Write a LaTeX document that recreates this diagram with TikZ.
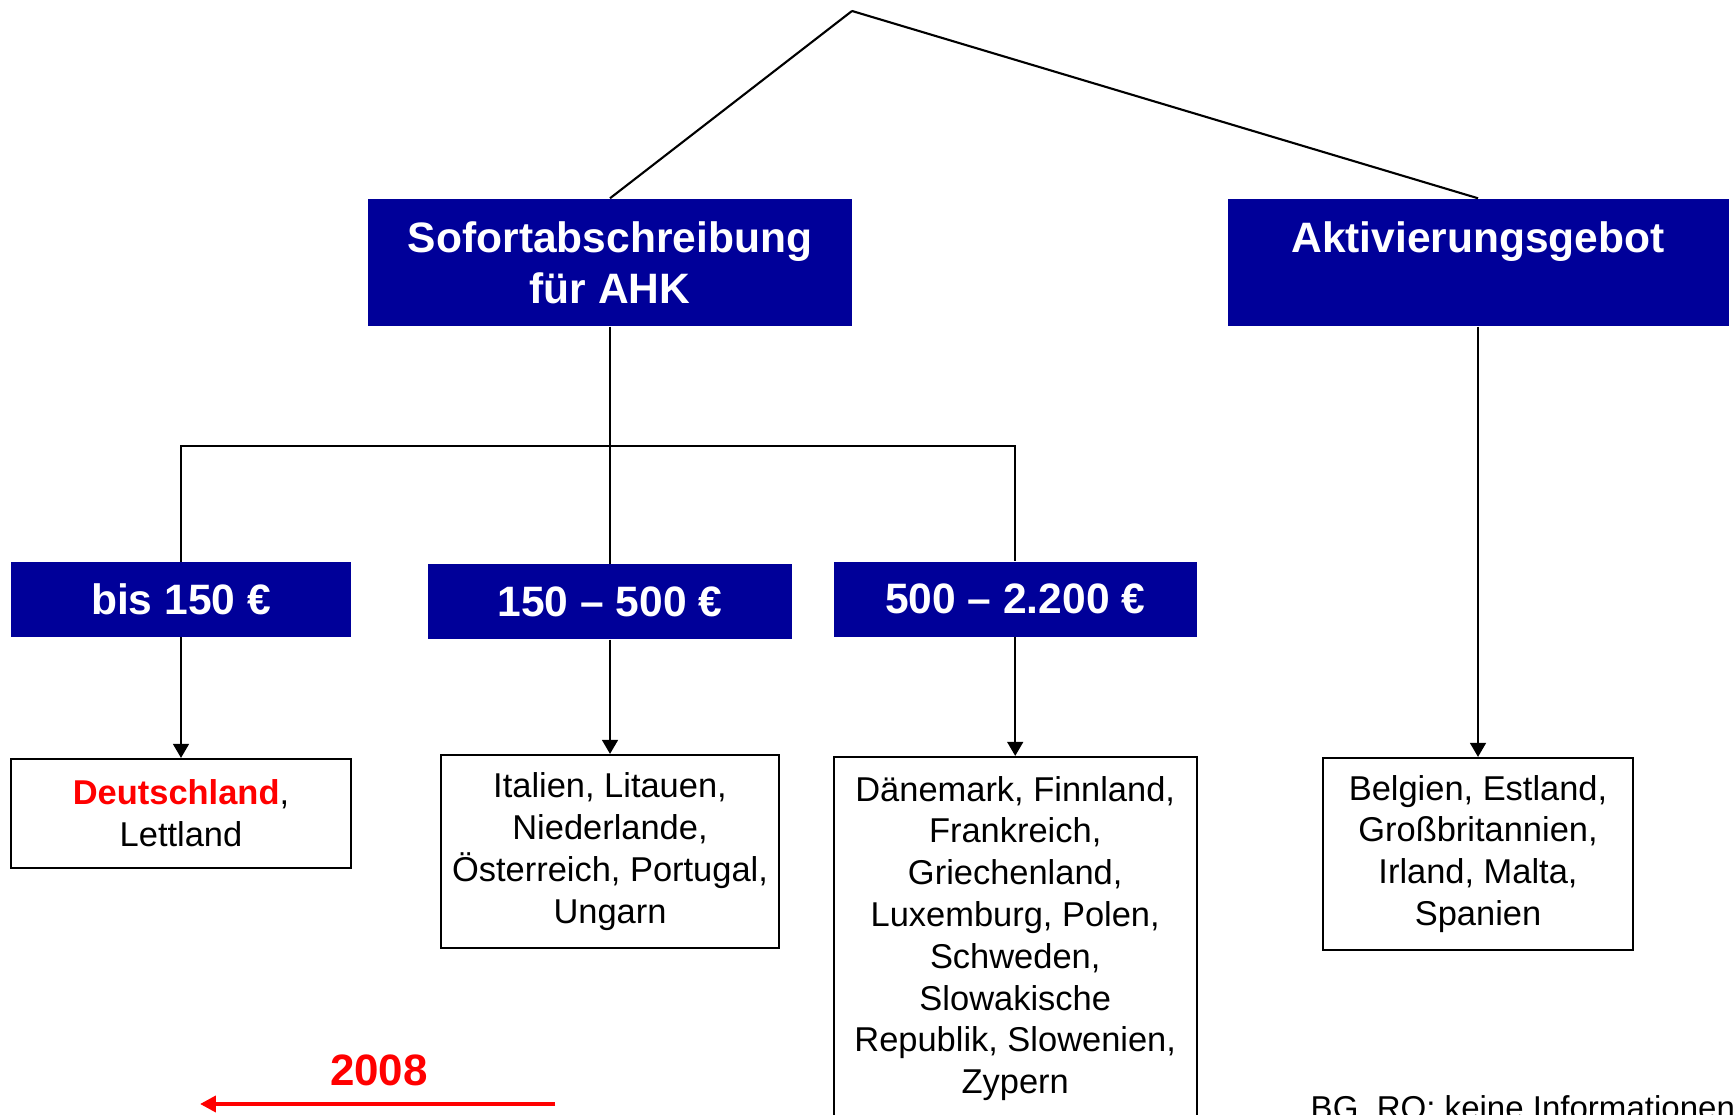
\documentclass[tikz,border=0pt]{standalone}
\usepackage{fontspec}
\setmainfont{Liberation Sans}
\usetikzlibrary{calc,arrows.meta}
\definecolor{ahkblue}{RGB}{0,0,153}
\definecolor{ahkred}{RGB}{255,0,0}

\tikzset{
  headbox/.style={fill=ahkblue, text=white, align=center, inner sep=0pt,
    font=\fontsize{12.1}{14.5}\selectfont\bfseries,
    minimum width=#1, minimum height=1.27cm},
  pricebox/.style={fill=ahkblue, text=white, inner sep=0pt,
    font=\fontsize{12.1}{14}\selectfont\bfseries,
    minimum width=#1, minimum height=0.745cm},
  countrybox/.style n args={2}{draw, line width=0.6pt, align=center, inner sep=0pt,
    font=\fontsize{9.8}{11.9}\selectfont,
    minimum width=#1, minimum height=#2},
  link/.style={line width=0.6pt},
  arrowlink/.style={line width=0.6pt, -{Triangle[length=4pt,width=4.5pt]}},
}

\begin{document}
\begin{tikzpicture}
\useasboundingbox (0,0) rectangle (17.36,11.15);

% top level
\coordinate (apex) at (8.52,11.04);
\node[headbox=4.84cm] (sofort) at (6.10,8.525) {Sofortabschreibung\\für AHK};
\node[headbox=5.01cm] (aktiv) at (14.78,8.525) {Aktivierungsgebot\\\mbox{}};

\draw[link] (apex) -- (sofort.north);
\draw[link] (apex) -- (aktiv.north);

% price ranges
\node[pricebox=3.40cm] (low) at (1.81,5.155) {bis 150 €};
\node[pricebox=3.635cm] (mid) at (6.10,5.133) {150 – 500 €};
\node[pricebox=3.632cm] (high) at (10.152,5.157) {500 – 2.200 €};

\coordinate (fork) at (6.10,6.69);
\draw[link] (sofort.south) -- (fork);
\draw[link] (fork) -| (low.north);
\draw[link] (fork) -| (high.north);
\draw[link] (fork) -- (mid.north);

% countries
\node[countrybox={3.40cm}{1.09cm}] (de) at (1.81,3.015) {\textbf{\color{ahkred}Deutschland},\\Lettland};
\node[countrybox={3.385cm}{1.93cm}] (ital) at (6.10,2.635) {Italien, Litauen,\\Niederlande,\\Österreich, Portugal,\\Ungarn};
\node[countrybox={3.632cm}{3.63cm}] (daen) at (10.152,1.765) {Dänemark, Finnland,\\Frankreich,\\Griechenland,\\Luxemburg, Polen,\\Schweden,\\Slowakische\\Republik, Slowenien,\\Zypern};
\node[countrybox={3.10cm}{1.92cm}] (belg) at (14.78,2.61) {Belgien, Estland,\\Großbritannien,\\Irland, Malta,\\Spanien};

\draw[arrowlink] (low) -- (de);
\draw[arrowlink] (mid) -- (ital);
\draw[arrowlink] (high) -- (daen);
\draw[arrowlink] (aktiv) -- (belg);

% year marker
\node[text=ahkred, font=\fontsize{12.5}{14}\selectfont\bfseries] (year) at (3.79,0.445) {2008};
\coordinate (yearfrom) at (5.55,0.11);
\coordinate (yearto) at (2.00,0.11);
\draw[-{Triangle[length=4.5pt,width=4.5pt]}, line width=1.1pt, color=ahkred] (yearfrom) -- (yearto);

\node[anchor=base west, inner sep=0pt, font=\fontsize{9.4}{11}\selectfont] (note) at (13.10,-0.04) {BG, RO: keine Informationen};
\end{tikzpicture}
\end{document}
